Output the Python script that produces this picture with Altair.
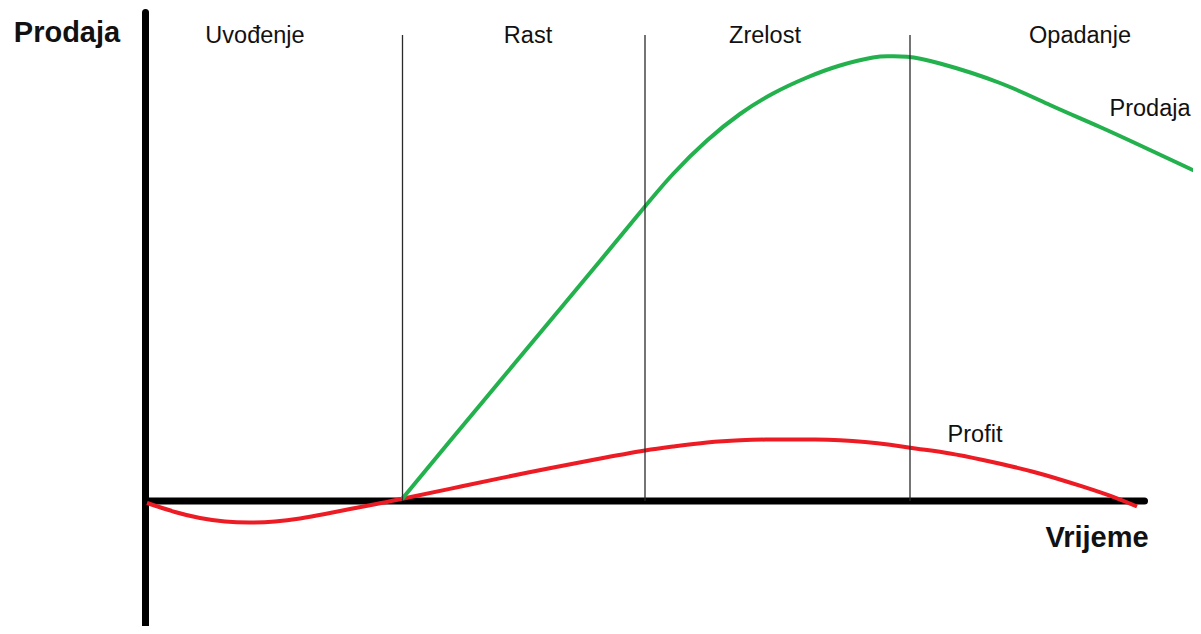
import altair as alt
import pandas as pd

# Time axis units (arbitrary), value axis units (arbitrary)
prodaja_t = [25.65, 30.45, 35.45, 40.45, 45.45, 49.45, 52.75, 56.15, 59.45, 62.75, 66.15, 69.45,
             72.75, 74.45, 76.15, 79.45, 85.45, 90.45, 95.45, 100.45, 105.15]
prodaja_v = [0.2, 6.0, 12.0, 18.0, 24.0, 28.85, 32.7, 36.05, 38.7, 40.75, 42.35, 43.55,
             44.35, 44.47, 44.42, 43.75, 41.8, 39.6, 37.4, 35.1, 32.9]

profit_t = [0.15, 2.95, 5.45, 7.95, 10.45, 12.95, 15.45, 17.95, 20.45, 22.95, 25.45, 31.65,
            38.25, 44.95, 49.95, 52.75, 56.15, 59.45, 61.95, 64.45, 66.95, 69.45, 71.95, 74.45,
            77.15, 80.45, 83.75, 88.75, 93.75, 97.15, 99.15]
profit_v = [-0.2, -1.1, -1.7, -2.05, -2.15, -2.05, -1.75, -1.3, -0.8, -0.33, 0.17, 1.47,
            2.85, 4.15, 5.05, 5.45, 5.85, 6.07, 6.14, 6.15, 6.14, 6.07, 5.9, 5.62,
            5.23, 4.75, 4.1, 2.93, 1.43, 0.27, -0.55]

faze = ["Uvođenje", "Rast", "Zrelost", "Opadanje"]
faza_granice = [25.7, 49.95, 76.45]
faza_label_t = [10.95, 38.25, 61.95, 93.45]
faza_label_v = 45.8

X_DOM = [-13.75, 104.75]
Y_DOM = [-12.5, 49.3]

xs = alt.Scale(domain=X_DOM, nice=False, zero=False)
ys = alt.Scale(domain=Y_DOM, nice=False, zero=False)

df_prod = pd.DataFrame({"t": prodaja_t, "v": prodaja_v})
df_prof = pd.DataFrame({"t": profit_t, "v": profit_v})
df_stage = pd.DataFrame({"t": faza_granice, "v0": [0] * 3, "v1": [46.6] * 3})
df_stage_lbl = pd.DataFrame({"t": faza_label_t, "v": [faza_label_v] * 4, "txt": faze})

X = lambda f="t": alt.X(f, type="quantitative", scale=xs, axis=None)
Y = lambda f="v": alt.Y(f, type="quantitative", scale=ys, axis=None)

# Axes drawn as thick rules
y_axis = alt.Chart(pd.DataFrame({"t": [0], "v0": [Y_DOM[0] - 1], "v1": [48.85]})).mark_rule(
    color="black", strokeWidth=7, strokeCap="round").encode(x=X(), y=Y("v0"), y2="v1")
x_axis = alt.Chart(pd.DataFrame({"t0": [0], "t1": [99.9], "v": [0]})).mark_rule(
    color="black", strokeWidth=7, strokeCap="round").encode(x=X("t0"), x2="t1", y=Y())

red = alt.Chart(df_prof).mark_line(color="#ED1C24", strokeWidth=4, interpolate="natural").encode(
    x=X(), y=Y())
green = alt.Chart(df_prod).mark_line(color="#22B14C", strokeWidth=4, interpolate="natural").encode(
    x=X(), y=Y())

stages = alt.Chart(df_stage).mark_rule(color="#2a2a2a", strokeWidth=1.3).encode(
    x=X(), y=Y("v0"), y2="v1")

font = "Liberation Sans"
stage_txt = alt.Chart(df_stage_lbl).mark_text(
    font=font, fontSize=23.5, color="#111", align="center", baseline="alphabetic").encode(
    x=X(), y=Y(), text="txt:N")

curve_lbl = pd.DataFrame({"t": [100.45, 82.95], "v": [38.5, 5.9], "txt": ["Prodaja", "Profit"]})
curve_txt = alt.Chart(curve_lbl).mark_text(
    font=font, fontSize=23.5, color="#111", align="center", baseline="alphabetic").encode(
    x=X(), y=Y(), text="txt:N")

axis_lbl = pd.DataFrame({"t": [-7.85, 95.15], "v": [45.9, -4.6], "txt": ["Prodaja", "Vrijeme"]})
axis_txt = alt.Chart(axis_lbl).mark_text(
    font=font, fontSize=29, fontWeight="bold", color="#111", align="center",
    baseline="alphabetic").encode(x=X(), y=Y(), text="txt:N")

chart = alt.layer(y_axis, x_axis, red, green, stages, stage_txt, curve_txt, axis_txt).properties(
    width=1185, height=618, padding=0, autosize=alt.AutoSizeParams(type="none"),
    background="white"
).configure_view(stroke=None)

chart.save("out.html", embed_options={"renderer": "svg", "actions": False})
